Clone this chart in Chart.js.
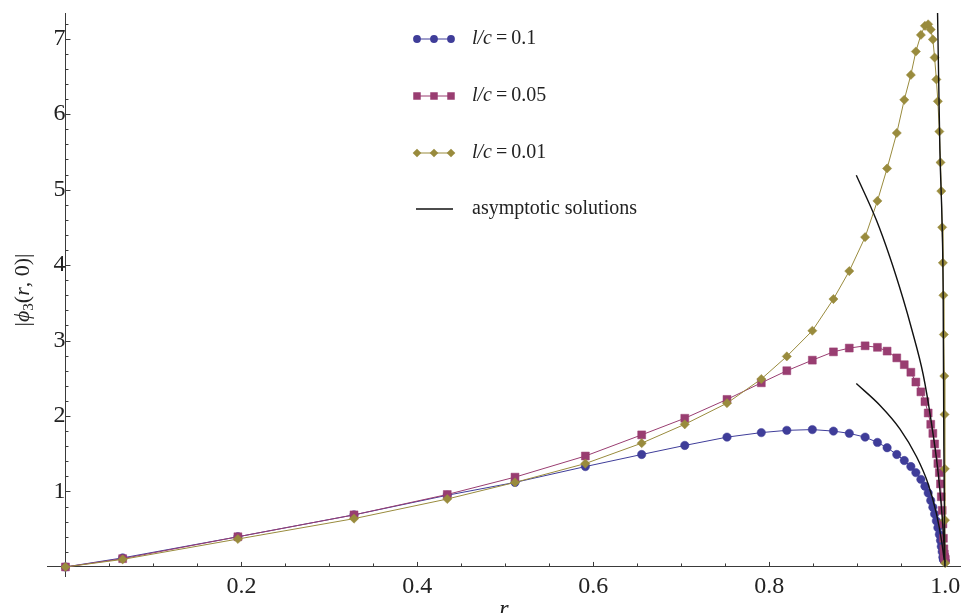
<!DOCTYPE html>
<html>
<head>
<meta charset="utf-8">
<script src="https://cdn.jsdelivr.net/npm/chart.js@4.4.0/dist/chart.umd.min.js"></script>
<style>
  html, body { margin: 0; padding: 0; background: #fff; overflow: hidden; }
  #wrap { width: 961px; height: 613px; position: relative; overflow: hidden; }
  #wrap canvas { display: block; }
</style>
</head>
<body>
<div id="wrap"><canvas id="phiChart"></canvas></div>
<script>
// radial grid shared by the three numerical runs (dense near r = 1)
const rGrid = [0, 0.065, 0.196, 0.328, 0.434, 0.511, 0.591, 0.655, 0.704, 0.752, 0.791, 0.820,
  0.849, 0.873, 0.891, 0.909, 0.923, 0.934, 0.945, 0.9535, 0.961, 0.9667, 0.9724, 0.977,
  0.9807, 0.9836, 0.986, 0.988, 0.990, 0.9917, 0.9934, 0.9947, 0.9956, 0.9966, 0.9974,
  0.998, 0.9985, 0.999, 0.9993, 0.9996, 0.9998, 1.0];

// |phi_3(r,0)| for each l/c
const phiLc01 = [0, 0.12, 0.40, 0.69, 0.95, 1.12, 1.33, 1.49, 1.61, 1.72, 1.78, 1.81,
  1.82, 1.80, 1.77, 1.72, 1.65, 1.58, 1.49, 1.41, 1.33, 1.25, 1.16, 1.07,
  0.98, 0.88, 0.79, 0.70, 0.61, 0.52, 0.43, 0.35, 0.27, 0.20, 0.13,
  0.10, 0.09, 0.09, 0.08, 0.08, 0.08, 0.08];
const phiLc005 = [0, 0.11, 0.40, 0.69, 0.96, 1.19, 1.47, 1.75, 1.97, 2.22, 2.44, 2.60,
  2.74, 2.85, 2.90, 2.93, 2.91, 2.86, 2.77, 2.68, 2.58, 2.45, 2.32, 2.19,
  2.04, 1.89, 1.77, 1.63, 1.50, 1.37, 1.25, 1.10, 0.93, 0.75, 0.57,
  0.38, 0.24, 0.17, 0.13, 0.11, 0.10, 0.10];
const phiLc001 = [0, 0.10, 0.37, 0.64, 0.90, 1.12, 1.37, 1.64, 1.89, 2.17, 2.49, 2.79,
  3.13, 3.55, 3.92, 4.37, 4.85, 5.28, 5.75, 6.19, 6.52, 6.83, 7.05, 7.17,
  7.19, 7.12, 6.99, 6.75, 6.46, 6.17, 5.77, 5.36, 4.98, 4.50, 4.03,
  3.60, 3.08, 2.53, 2.02, 1.30, 0.62, 0.05];

// asymptotic solutions, three branches split by null
const asymR = [0.9912, 0.9940, 0.9966, 0.9977, 0.9985, 0.9997, null,
  0.899, 0.922, 0.937, 0.952, 0.962, 0.975, 0.9845, 0.992, 0.997, 1.0, null,
  0.899, 0.926, 0.9485, 0.9675, 0.9807, 0.990, 0.9959, 0.9989];
const asymPhi = [7.45, 5.52, 4.50, 3.65, 1.60, 0.0, null,
  5.19, 4.59, 4.11, 3.56, 3.15, 2.55, 1.90, 1.25, 0.60, 0.05, null,
  2.43, 2.14, 1.83, 1.46, 1.10, 0.71, 0.35, 0.09];

const seriesLabels = ['l/c = 0.1', 'l/c = 0.05', 'l/c = 0.01', 'asymptotic solutions'];
const xMajorTicks = [0.2, 0.4, 0.6, 0.8, 1.0];
const yMajorTicks = [1, 2, 3, 4, 5, 6, 7];

const serif = "'Liberation Serif', 'DejaVu Serif', 'Times New Roman', serif";
const axisColor = '#3a3a3a';
const colors = ['#3f3d99', '#993d71', '#998b3d', '#111111'];
const styles = ['circle', 'rect', 'rectRot'];
const radii = [4.2, 5.6, 4.6];

const toPoints = (xs, ys) => xs.map((x, i) => ({ x: x, y: ys[i] }));
const isMajor = (v, list) => list.some(m => Math.abs(m - v) < 1e-6);
// axes cross at the origin, so label overflow must not shrink the plot
const noOverflow = scale => {
  scale.paddingLeft = 0; scale.paddingRight = 0;
  scale.paddingTop = 0; scale.paddingBottom = 0;
};

const numericSets = [phiLc01, phiLc005, phiLc001].map((vals, i) => ({
  label: seriesLabels[i],
  data: toPoints(rGrid, vals),
  borderColor: colors[i],
  backgroundColor: colors[i],
  borderWidth: 1,
  pointStyle: styles[i],
  pointRadius: radii[i],
  pointBorderWidth: 0.5,
  pointBackgroundColor: colors[i],
  pointBorderColor: colors[i],
  tension: 0,
  order: 4 - i
}));

const asymSet = {
  label: seriesLabels[3],
  data: toPoints(asymR, asymPhi),
  borderColor: colors[3],
  borderWidth: 1.4,
  pointRadius: 0,
  cubicInterpolationMode: 'monotone',
  spanGaps: false,
  order: 1
};

function drawRuns(ctx, runs, x, y, center) {
  let total = 0;
  runs.forEach(r => { ctx.font = r.font; r.w = ctx.measureText(r.text).width; total += r.w; });
  let cx = center ? x - total / 2 : x;
  runs.forEach(r => {
    ctx.font = r.font;
    ctx.fillText(r.text, cx, y + (r.dy || 0));
    cx += r.w;
  });
}

function drawMarker(ctx, style, x, y, rad) {
  ctx.beginPath();
  if (style === 'circle') {
    ctx.arc(x, y, rad, 0, Math.PI * 2);
  } else if (style === 'rect') {
    const s = rad * Math.SQRT1_2;
    ctx.rect(x - s, y - s, 2 * s, 2 * s);
  } else {
    ctx.moveTo(x, y - rad); ctx.lineTo(x + rad, y); ctx.lineTo(x, y + rad); ctx.lineTo(x - rad, y);
    ctx.closePath();
  }
  ctx.fill();
}

const decor = {
  id: 'decor',
  afterDraw(chart) {
    const { ctx, scales: { x, y } } = chart;
    const x0 = x.getPixelForValue(0);
    const y0 = y.getPixelForValue(0);
    ctx.save();

    // inward tick marks, Mathematica style
    ctx.strokeStyle = axisColor;
    ctx.lineWidth = 1;
    ctx.beginPath();
    x.ticks.forEach(t => {
      if (t.value <= 0) return;
      const px = Math.round(x.getPixelForValue(t.value)) + 0.5;
      const len = isMajor(t.value, xMajorTicks) ? 5 : 3.5;
      ctx.moveTo(px, y0); ctx.lineTo(px, y0 - len);
    });
    y.ticks.forEach(t => {
      if (t.value <= 0) return;
      const py = Math.round(y.getPixelForValue(t.value)) + 0.5;
      const len = isMajor(t.value, yMajorTicks) ? 5 : 3;
      ctx.moveTo(x0, py); ctx.lineTo(x0 + len, py);
    });
    ctx.stroke();

    // axis titles
    ctx.fillStyle = '#222';
    ctx.textBaseline = 'alphabetic';
    drawRuns(ctx, [{ text: 'r', font: 'italic 24px ' + serif }],
      (chart.chartArea.left + chart.chartArea.right) / 2, 616, true);

    ctx.save();
    ctx.translate(29, 290);
    ctx.rotate(-Math.PI / 2);
    drawRuns(ctx, [
      { text: '|', font: '22px ' + serif },
      { text: '\u03D5', font: 'italic 22px ' + serif },
      { text: '3', font: '15px ' + serif, dy: 4 },
      { text: '(', font: '22px ' + serif },
      { text: 'r', font: 'italic 22px ' + serif },
      { text: ', 0)|', font: '22px ' + serif }
    ], 0, 0, true);
    ctx.restore();

    // legend
    const rows = [39, 96, 153, 209];
    ctx.textBaseline = 'middle';
    rows.forEach((ry, i) => {
      ctx.strokeStyle = colors[i];
      ctx.fillStyle = colors[i];
      ctx.lineWidth = i === 3 ? 1.4 : 1;
      ctx.beginPath();
      if (i === 3) { ctx.moveTo(416, ry); ctx.lineTo(453, ry); }
      else { ctx.moveTo(417, ry); ctx.lineTo(451, ry); }
      ctx.stroke();
      if (i < 3) [417, 434, 451].forEach(mx => drawMarker(ctx, styles[i], mx, ry, radii[i] - 0.3));
      ctx.fillStyle = '#222';
      const lbl = seriesLabels[i];
      if (lbl.startsWith('l/c')) {
        drawRuns(ctx, [
          { text: 'l/c', font: 'italic 20px ' + serif },
          { text: '\u2009=\u2009' + lbl.split('= ')[1], font: '20px ' + serif }
        ], 472, ry, false);
      } else {
        drawRuns(ctx, [{ text: lbl, font: '20px ' + serif }], 472, ry, false);
      }
    });
    ctx.restore();
  }
};

new Chart(document.getElementById('phiChart'), {
  type: 'line',
  data: { datasets: numericSets.concat([asymSet]) },
  options: {
    responsive: true,
    maintainAspectRatio: false,
    animation: false,
    events: [],
    layout: { autoPadding: false, padding: { left: 47, right: 0, top: 13, bottom: 37 } },
    plugins: { legend: { display: false }, tooltip: { enabled: false } },
    scales: {
      x: {
        type: 'linear',
        min: -0.021,
        max: 1.018,
        position: { y: 0 },
        afterFit: noOverflow,
        grid: { display: false, drawTicks: false },
        border: { display: true, color: axisColor, width: 1 },
        ticks: {
          stepSize: 0.05,
          includeBounds: false,
          autoSkip: false,
          maxRotation: 0,
          padding: 5,
          color: '#222',
          font: { family: serif, size: 24 },
          callback: v => isMajor(v, xMajorTicks) ? v.toFixed(1) : ''
        }
      },
      y: {
        type: 'linear',
        min: -0.12,
        max: 7.34,
        position: { x: 0 },
        afterFit: noOverflow,
        grid: { display: false, drawTicks: false },
        border: { display: true, color: axisColor, width: 1 },
        ticks: {
          stepSize: 0.2,
          includeBounds: false,
          autoSkip: false,
          padding: 8,
          color: '#222',
          font: { family: serif, size: 24 },
          callback: v => isMajor(v, yMajorTicks) ? String(Math.round(v)) : ''
        }
      }
    }
  },
  plugins: [decor]
});
</script>
</body>
</html>
